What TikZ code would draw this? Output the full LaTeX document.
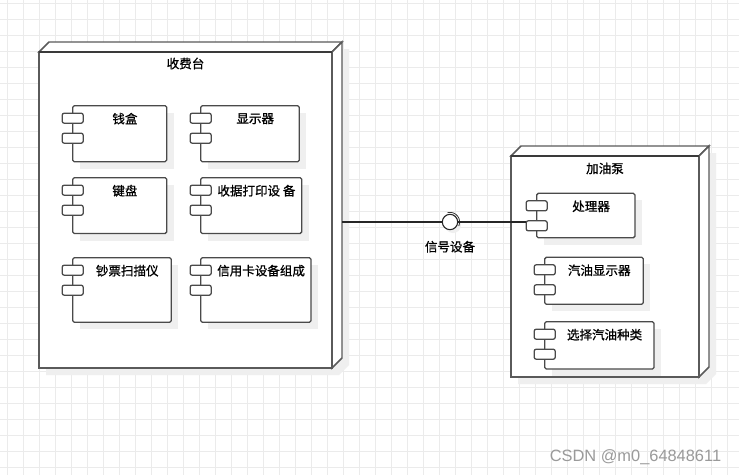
\documentclass[tikz,border=0pt]{standalone}
\usepackage{fontspec}
\setmainfont{Liberation Sans}
\newfontfamily\cjk[FakeBold=0.9]{Noto Sans CJK SC}
\usetikzlibrary{fit}
\definecolor{gridc}{HTML}{EBEBEB}
\definecolor{shadc}{HTML}{EFEFEF}
\definecolor{edgec}{HTML}{5A5A5A}
\definecolor{topc}{HTML}{3A3A3A}
\definecolor{compc}{HTML}{4A4A4A}
\definecolor{wmc}{HTML}{9A9A9A}
\tikzset{
  body/.style={draw=compc, line width=0.95pt, fill=white, inner sep=0pt, rounded corners=1.2pt},
  port/.style={draw=compc, line width=0.95pt, fill=white, inner sep=0pt, rounded corners=1.5pt},
  lbl/.style={inner sep=0pt, font=\fontsize{9.4pt}{11pt}\selectfont\cjk},
  nodeedge/.style={draw=edgec, line width=1.1pt, fill=white, line join=miter},
  conn/.style={draw=black!85, line width=0.8pt},
  hull/.style={inner sep=0pt}
}
% component: name, x1, y1, x2, y2, text
\newcommand\mycomp[6]{%
  \fill[shadc] (#2+7,#3+7) rectangle (#4+7,#5+7);
  \node[body, fit={(#2,#3)(#4,#5)}] (#1) {};
  \node[port, fit={(#2-10.5,#3+7.5)(#2+10.5,#3+17.5)}] (#1p1) {};
  \node[port, fit={(#2-10.5,#3+27.5)(#2+10.5,#3+37.5)}] (#1p2) {};
  \node[lbl] (#1t) at ({(#2+10.5+#4)/2},#3+13) {#6};
}
% 3D deployment node: name, x1, y1, x2, y2, title, title y
\newcommand\mydnode[7]{%
  \fill[shadc] (#2+7,#3+7) -- (#2+17,#3-3) -- (#4+17,#3-3) -- (#4+17,#5-3) -- (#4+7,#5+7) -- (#2+7,#5+7) -- cycle;
  \node[hull, fit={(#2,#3-10)(#4+10,#5)}] (#1) {};
  \path[nodeedge] (#2,#3) -- (#2+10,#3-10) -- (#4+10,#3-10) -- (#4,#3) -- cycle;
  \path[nodeedge] (#4,#3) -- (#4+10,#3-10) -- (#4+10,#5-10) -- (#4,#5) -- cycle;
  \path[nodeedge] (#2,#3) rectangle (#4,#5);
  \draw[topc, line width=1.3pt] (#2,#3) -- (#4,#3);
  \node[lbl] (#1t) at ({(#2+#4)/2},#7) {#6};
}
\begin{document}
\begin{tikzpicture}[x=0.75pt,y=-0.75pt]
\useasboundingbox (0,0) rectangle (739,475);
\fill[white] (0,0) rectangle (739,475);
\foreach \x in {7,23,...,739} \draw[gridc, line width=0.75pt] (\x,0) -- (\x,475);
\foreach \y in {3,19,...,475} \draw[gridc, line width=0.75pt] (0,\y) -- (739,\y);

\mydnode{cashier}{39}{52}{332}{368}{收费台}{63.5}
\mydnode{pump}{511}{156}{699}{377}{加油泵}{168.5}

\mycomp{qianhe}{72.7}{105.7}{166.7}{161.7}{钱盒}
\mycomp{xianshi}{200.7}{105.7}{299.3}{161.7}{显示器}
\mycomp{jianpan}{72.7}{177.7}{166.7}{233.5}{键盘}
\mycomp{shouju}{200.7}{177.7}{301.7}{233.5}{收据打印设 备}
\mycomp{chaopiao}{72.7}{257.7}{171.3}{322.3}{钞票扫描仪}
\mycomp{xinyong}{200.7}{257.7}{311}{322.3}{信用卡设备组成}

\mycomp{cpu}{536.7}{193.3}{635}{237.7}{处理器}
\mycomp{qiyou}{544.7}{257.3}{643.3}{304.3}{汽油显示器}
\mycomp{xuanze}{544.7}{321.7}{654}{369}{选择汽油种类}

% interface
\fill[shadc] (453,225) circle[radius=6pt];
\node[circle, draw=black!85, line width=0.8pt, fill=white, minimum size=11.5pt, inner sep=0pt] (iface) at (450,222) {};
\draw[black!80, line width=0.6pt] plot[smooth, domain=-105:25, samples=20] ({450+9.6*cos(\x)},{222+9.6*sin(\x)});
\node[lbl] (ifacet) at (450,246.7) {信号设备};

\draw[conn] (cashier.east |- iface) -- (iface.west);
\draw[conn] (iface.east) -- (cpup2.west |- iface);

\node[text=wmc, inner sep=0pt, font=\fontsize{12.3pt}{14pt}\selectfont] (wm) at (635.5,456.7) {CSDN @m0\_64848611};
\end{tikzpicture}
\end{document}
